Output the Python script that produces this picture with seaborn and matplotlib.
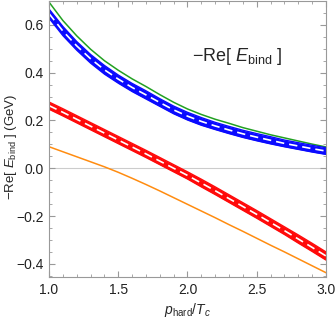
import seaborn as sns
import matplotlib.pyplot as plt
from matplotlib.ticker import MultipleLocator

# values (x = p_hard / T_c)
p_hard = [1.0, 1.1, 1.2, 1.3, 1.4, 1.5, 1.6, 1.7, 1.8, 1.9, 2.0,
          2.1, 2.2, 2.3, 2.4, 2.5, 2.6, 2.7, 2.8, 2.9, 3.0]
green = [0.695, 0.618, 0.554, 0.498, 0.450, 0.410, 0.374, 0.342, 0.308, 0.276, 0.248,
         0.225, 0.205, 0.188, 0.170, 0.155, 0.140, 0.127, 0.114, 0.101, 0.089]
blue = [0.647, 0.574, 0.512, 0.458, 0.412, 0.373, 0.338, 0.307, 0.275, 0.244, 0.218,
        0.196, 0.177, 0.160, 0.144, 0.130, 0.117, 0.104, 0.093, 0.082, 0.072]
blue_err = [0.019, 0.019, 0.018, 0.018, 0.018, 0.017, 0.017, 0.017, 0.016, 0.016, 0.016,
            0.016, 0.015, 0.015, 0.015, 0.015, 0.015, 0.014, 0.014, 0.014, 0.014]
red = [0.262, 0.234, 0.205, 0.176, 0.147, 0.118, 0.089, 0.060, 0.030, 0.000, -0.030,
       -0.062, -0.094, -0.127, -0.160, -0.193, -0.227, -0.261, -0.296, -0.331, -0.367]
red_err = [0.015, 0.015, 0.015, 0.015, 0.015, 0.015, 0.015, 0.015, 0.015, 0.015, 0.015,
           0.016, 0.016, 0.016, 0.016, 0.016, 0.016, 0.016, 0.017, 0.017, 0.017]
orange = [0.090, 0.069, 0.048, 0.027, 0.006, -0.017, -0.042, -0.068, -0.095, -0.123, -0.151,
          -0.179, -0.207, -0.236, -0.264, -0.293, -0.322, -0.350, -0.379, -0.408, -0.437]

sns.set_style("ticks")
plt.rcParams['font.family'] = ['Liberation Sans', 'DejaVu Sans']
plt.rcParams['mathtext.fontset'] = 'custom'
plt.rcParams['mathtext.it'] = 'Liberation Sans:italic'
plt.rcParams['mathtext.rm'] = 'Liberation Sans'

fig = plt.figure(figsize=(3.36, 3.18), dpi=100)
ax = fig.add_axes([0.146, 0.129, 0.824, 0.868])

ax.axhline(0, color='#cccccc', lw=0.8, zorder=0)

sns.lineplot(x=p_hard, y=green, color='#22a022', lw=1.1, ax=ax)


def band(mid, err, color):
    lo = [m - e for m, e in zip(mid, err)]
    hi = [m + e for m, e in zip(mid, err)]
    ax.fill_between(p_hard, lo, hi, color=color, lw=0)
    sns.lineplot(x=p_hard, y=lo, color=color, lw=1.0, ax=ax)
    sns.lineplot(x=p_hard, y=hi, color=color, lw=1.0, ax=ax)
    sns.lineplot(x=p_hard, y=mid, color='white', lw=1.2, ax=ax)
    ax.lines[-1].set_dashes([5, 3])


band(blue, blue_err, '#0a0aff')
band(red, red_err, '#ff0a0a')

sns.lineplot(x=p_hard, y=orange, color='#ff8c10', lw=1.1, ax=ax)

ax.set_xlim(1.0, 3.0)
ax.set_ylim(-0.455, 0.70)
ax.xaxis.set_minor_locator(MultipleLocator(0.1))
ax.yaxis.set_minor_locator(MultipleLocator(0.05))
ax.set_xticks([1.0, 1.5, 2.0, 2.5, 3.0])
ax.set_xticklabels(['1.0', '1.5', '2.0', '2.5', '3.0'])
ax.set_yticks([-0.4, -0.2, 0.0, 0.2, 0.4, 0.6])
ax.set_yticklabels(['\u22120.4', '\u22120.2', '0.0', '0.2', '0.4', '0.6'])

for s in ax.spines.values():
    s.set_color('#999999')
    s.set_linewidth(0.8)
ax.tick_params(which='both', direction='in', top=True, right=True,
               color='#999999', labelsize=10, labelcolor='#222222', pad=4)
ax.tick_params(which='major', length=4)
ax.tick_params(which='minor', length=2)

ax.set_xlabel(r'$p_{\rm hard}/T_c$', fontsize=10, labelpad=3)
ax.set_ylabel('\u2212Re[ $E_{\\rm bind}$ ] (GeV)', fontsize=9.5)
ax.yaxis.set_label_coords(-0.11, 0.47)
ax.text(0.68, 0.80, '\u2212Re[ $E_{\\rm bind}$ ]', transform=ax.transAxes,
        fontsize=13, ha='center', va='center')

fig.savefig('out.png', dpi=100)
